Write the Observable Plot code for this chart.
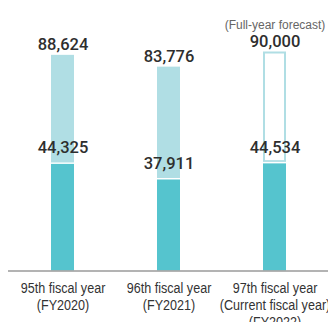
<!DOCTYPE html>
<html>
<head>
<meta charset="utf-8">
<script src="https://cdn.jsdelivr.net/npm/d3@7"></script>
<script src="https://cdn.jsdelivr.net/npm/@observablehq/plot@0.6"></script>
<style>
  html, body { margin: 0; padding: 0; background: #fff; }
  #chart svg { display: block; overflow: visible; }
</style>
</head>
<body>
<div id="chart"></div>
<script>
const categories = ["95th", "96th", "97th"];
const fullYear = [88624, 83776, 90000];
const firstHalf = [44325, 37911, 44534];
const isForecast = [false, false, true];
const tickLabels = [
  "95th fiscal year\n(FY2020)",
  "96th fiscal year\n(FY2021)",
  "97th fiscal year\n(Current fiscal year)\n(FY2022)"
];
const forecastNote = "(Full-year forecast)";

const rows = categories.map((c, i) => ({
  cat: c, full: fullYear[i], h1: firstHalf[i], forecast: isForecast[i]
}));

const darkColor = "#55c4ce";
const lightColor = "#b0dee4";
const numFont = "Roboto, Liberation Sans, Arial, sans-serif";
const textFont = "Liberation Sans, Arial, sans-serif";

const chart = Plot.plot({
  width: 328,
  height: 322,
  marginLeft: 8,
  marginRight: 0,
  marginTop: 0,
  marginBottom: 51,
  x: {
    domain: categories,
    range: [9.5, 327.5],
    paddingInner: 0.783,
    paddingOuter: 0.3915,
    align: 0.5
  },
  y: { domain: [0, 90000], range: [270.5, 51.5], axis: null },
  marks: [
    Plot.rectY(rows.filter(d => !d.forecast), {x: "cat", y1: "h1", y2: "full", fill: lightColor}),
    Plot.rectY(rows.filter(d => d.forecast), {x: "cat", y1: "h1", y2: "full", fill: "white", stroke: lightColor, strokeWidth: 2, inset: 1}),
    Plot.rectY(rows, {x: "cat", y1: 0, y2: "h1", fill: darkColor}),
    Plot.tickY(rows, {x: "cat", y: "h1", stroke: "white", strokeWidth: 1.5}),
    Plot.ruleY([0], {stroke: "#9a9a9a", strokeWidth: 1.6}),
    Plot.text(rows, {x: "cat", y: "full", text: d => d3.format(",")(d.full), dy: -5, lineAnchor: "bottom",
      fontSize: 16.5, fontWeight: 500, fill: "#2e2e2e", fontFamily: numFont}),
    Plot.text(rows, {x: "cat", y: "h1", text: d => d3.format(",")(d.h1), dy: -10, lineAnchor: "bottom",
      fontSize: 16.5, fontWeight: 500, fill: "#2e2e2e", fontFamily: numFont}),
    Plot.text(rows.filter(d => d.forecast), {x: "cat", y: "full", text: () => forecastNote, dy: -23, lineAnchor: "bottom",
      fontSize: 12, fill: "#666", fontFamily: textFont}),
    Plot.axisX({
      tickSize: 0,
      tickPadding: 9,
      tickFormat: c => tickLabels[categories.indexOf(c)],
      fontSize: 15,
      lineHeight: 1.15,
      fontFamily: textFont,
      fill: "#333",
      label: null
    })
  ]
});
// narrow the axis labels horizontally (condensed look)
d3.select(chart).selectAll("text").filter(function() {
  return this.textContent.includes("fiscal year");
}).each(function() {
  const t = this.getAttribute("transform") || "";
  const x = +(this.getAttribute("x") || 0);
  this.setAttribute("transform", `${t} translate(${x},0) scale(0.84,1) translate(${-x},0)`);
});
document.getElementById("chart").append(chart);
</script>
</body>
</html>
